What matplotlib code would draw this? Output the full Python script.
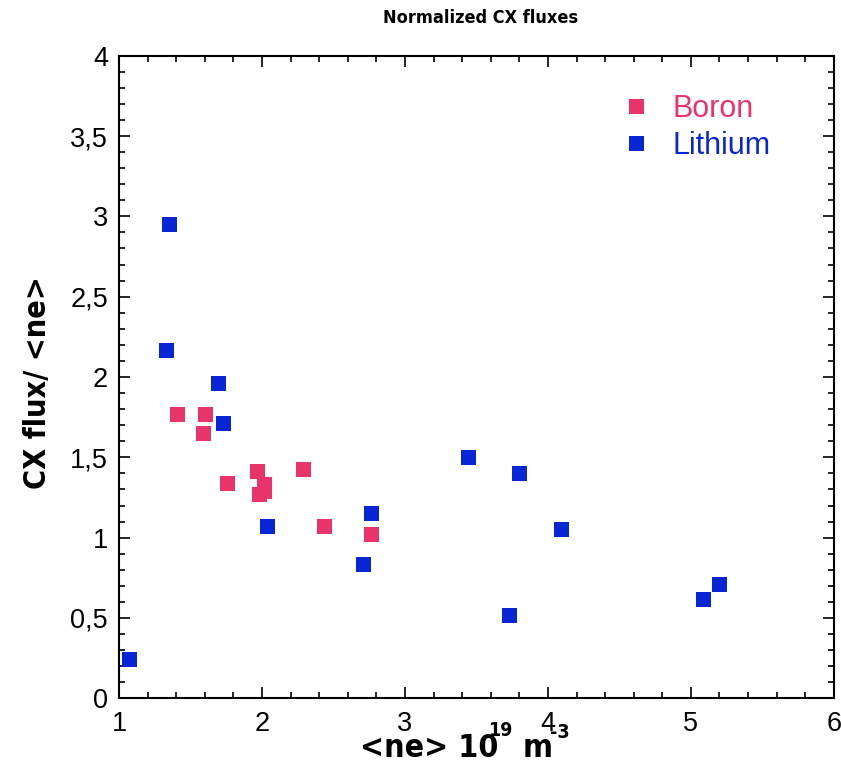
import matplotlib
matplotlib.use("Agg")
import matplotlib.pyplot as plt
from matplotlib import font_manager
from matplotlib.font_manager import FontProperties
from matplotlib.ticker import MultipleLocator, FuncFormatter

# CX flux normalised by line density, two wall-conditioning campaigns
boron_ne = [1.408, 1.603, 1.590, 1.757, 1.967, 2.016, 2.016, 1.977, 2.289,
            2.436, 2.765]
boron_cx = [1.771, 1.767, 1.649, 1.338, 1.416, 1.333, 1.291, 1.270, 1.425,
            1.070, 1.020]
lithium_ne = [1.352, 1.331, 1.695, 1.730, 2.037, 2.765, 2.709, 1.072, 3.443,
              3.799, 4.093, 3.729, 5.086, 5.196]
lithium_cx = [2.950, 2.169, 1.960, 1.715, 1.074, 1.151, 0.834, 0.243, 1.500,
              1.402, 1.052, 0.518, 0.616, 0.709]

PINK = "#E9346B"
BLUE = "#0826D6"

names = {f.name for f in font_manager.fontManager.ttflist}
SANS = "Liberation Sans" if "Liberation Sans" in names else "DejaVu Sans"
plt.rcParams["font.family"] = [SANS, "DejaVu Sans"]


def narrow_bold(size):
    # prefer a condensed bold face for the titles, else plain bold
    for f in font_manager.fontManager.ttflist:
        fn = f.fname.lower()
        if (("narrow" in fn or "condensed" in fn)
                and "bold" in fn and "oblique" not in fn
                and "italic" not in fn):
            return FontProperties(fname=f.fname, size=size), True
    return FontProperties(family=SANS, weight="bold", size=size), False


_, COND = narrow_bold(10)

fig = plt.figure(figsize=(8.41, 7.65), dpi=100)
ax = fig.add_axes([0.1415, 0.0872, 0.850, 0.840])

ax.plot(boron_ne, boron_cx, "s", color=PINK, ms=10.8, mew=0,
        label="Boron")
ax.plot(lithium_ne, lithium_cx, "s", color=BLUE, ms=10.8, mew=0,
        label="Lithium")

ax.set_xlim(1, 6)
ax.set_ylim(0, 4)
ax.xaxis.set_major_locator(MultipleLocator(1))
ax.xaxis.set_minor_locator(MultipleLocator(0.2))
ax.yaxis.set_major_locator(MultipleLocator(0.5))
ax.yaxis.set_minor_locator(MultipleLocator(0.1))
ax.yaxis.set_major_formatter(
    FuncFormatter(lambda v, _: f"{v:g}".replace(".", ",")))
ax.tick_params(which="both", direction="in", top=True, right=True,
               width=1.2, labelsize=19.5)
ax.tick_params(which="major", length=8)
ax.tick_params(which="minor", length=4)
ax.tick_params(axis="y", pad=8)
ax.tick_params(axis="x", pad=9)
for s in ax.spines.values():
    s.set_linewidth(1.5)

leg = ax.legend(loc="upper right", bbox_to_anchor=(0.95, 0.983),
                frameon=False, fontsize=22, handletextpad=0.7,
                labelspacing=0.22, handlelength=1.0)
for txt, c in zip(leg.get_texts(), (PINK, BLUE)):
    txt.set_color(c)

fp_t, _ = narrow_bold(13 if COND else 12)
fig.text(0.572, 0.976, "Normalized CX fluxes", ha="center", va="center",
         fontproperties=fp_t)
fp_y, _ = narrow_bold(22 if COND else 21)
fig.text(0.0446, 0.50, "CX flux/ <ne>", rotation=90, ha="center",
         va="center", fontproperties=fp_y)

# axis title built from pieces so the exponents sit where they belong
fp_x, _ = narrow_bold(23 if COND else 20)
fp_s, _ = narrow_bold(14 if COND else 13)
fig.text(0.428, 0.022, "<ne> 10", ha="left", va="center",
         fontproperties=fp_x)
fig.text(0.580, 0.045, "19", ha="left", va="center", fontproperties=fp_s)
fig.text(0.622, 0.022, "m", ha="left", va="center", fontproperties=fp_x)
fig.text(0.654, 0.043, "-3", ha="left", va="center", fontproperties=fp_s)

fig.savefig("out.png", dpi=100)
